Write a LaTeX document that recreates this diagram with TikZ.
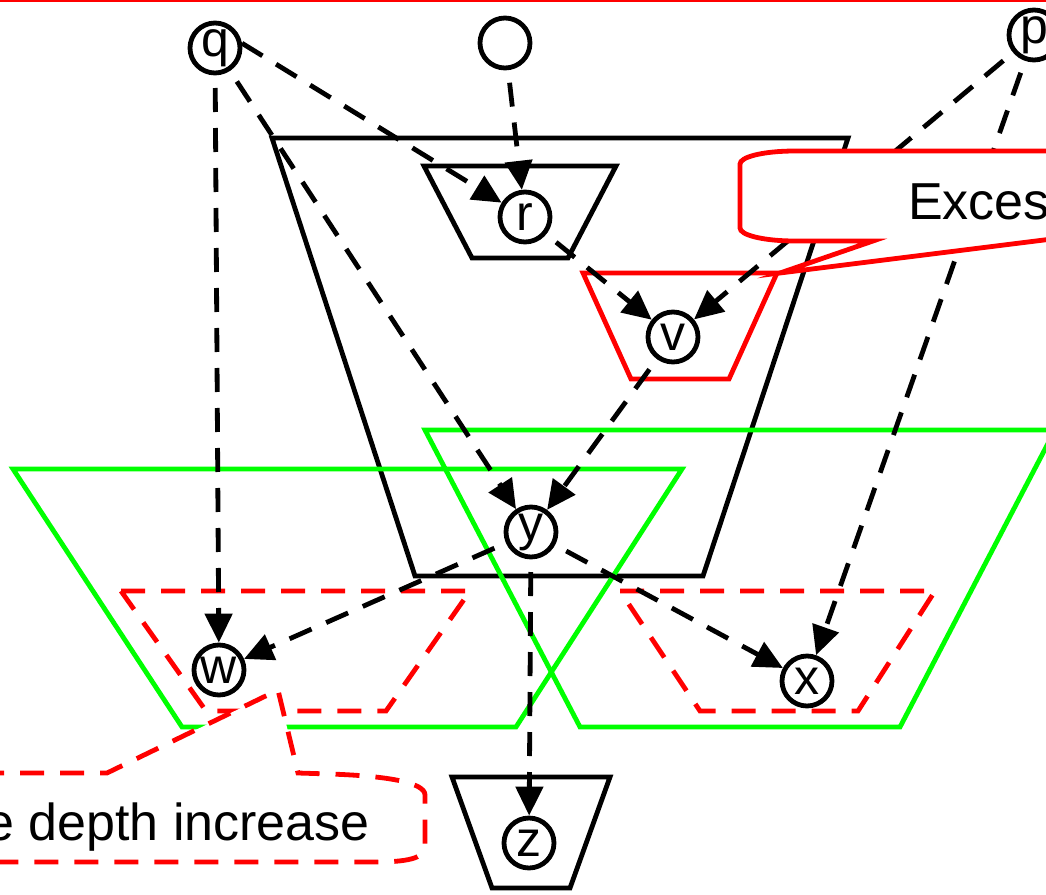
\documentclass[tikz,border=0pt]{standalone}
\usepackage{fontspec}
\setmainfont{Liberation Sans}
\usetikzlibrary{arrows.meta}
\pgfdeclarelayer{bg}
\pgfdeclarelayer{clusters}
\pgfdeclarelayer{edges}
\pgfdeclarelayer{top}
\pgfsetlayers{bg,clusters,edges,main,top}
\definecolor{gr}{RGB}{0,255,0}
\definecolor{rd}{RGB}{255,0,0}
\begin{document}
\begin{tikzpicture}[x=1pt,y=-1pt,
  vert/.style={circle, draw, line width=4.8pt, fill=white, minimum size=50pt, inner sep=0pt,
    font=\fontsize{50}{50}\selectfont},
  depedge/.style={line width=4.8pt, dash pattern=on 24pt off 16pt, -{Triangle[length=29pt,width=27pt]}},
  blk/.style={draw=black, line width=4.8pt},
  grn/.style={draw=gr, line width=4.8pt},
  redsolid/.style={draw=rd, line width=4.8pt},
  reddash/.style={draw=rd, line width=4.8pt, dash pattern=on 24pt off 16pt},
  lbl/.style={inner sep=0pt, font=\fontsize{52}{52}\selectfont}
]
\useasboundingbox (0,0) rectangle (1046,894);
\begin{pgfonlayer}{bg}
\fill[white] (0,0) rectangle (1046,894);
\draw[rd, line width=2pt] (0,1) -- (1046,1);
\end{pgfonlayer}

% nodes
\node[vert] (q) at (215,48) {q};
\node[vert] (t0) at (505,43) {};
\node[vert] (p) at (1034,35) {p};
\node[vert] (r) at (525,217) {r};
\node[vert] (v) at (673,337) {v};
\node[vert] (y) at (531,532) {y};
\node[vert] (w) at (219,670) {w};
\node[vert] (x) at (807,681) {x};
\node[vert] (z) at (529,843) {z};

% clusters
\begin{pgfonlayer}{clusters}
\draw[blk] (272,138) -- (848,138) -- (703,576) -- (415,576) -- cycle;
\draw[blk] (424,166) -- (616,166) -- (568,258) -- (472,258) -- cycle;
\draw[redsolid] (583,273) -- (777,273) -- (729,379) -- (631,379) -- cycle;
\draw[grn] (13,469) -- (682,469) -- (516,727) -- (182,727) -- cycle;
\draw[grn] (425,430) -- (1055,430) -- (900,727) -- (580,727) -- cycle;
\draw[reddash] (121,591) -- (470,591) -- (386,711) -- (206,711) -- cycle;
\draw[reddash] (620,591) -- (935,591) -- (858,711) -- (700,711) -- cycle;
\draw[blk] (452,777) -- (610,777) -- (570,888) -- (492,888) -- cycle;
\end{pgfonlayer}

% edges
\begin{pgfonlayer}{edges}
\draw[depedge] (q.center) -- (w);
\draw[depedge] (q.center) -- (y);
\draw[depedge] (q.10) -- (r);
\draw[depedge] (t0.center) -- (r);
\draw[depedge] (r.center) -- (v);
\draw[depedge] (p.center) -- (v);
\draw[depedge] (p.center) -- (x);
\draw[depedge] (v.center) -- (y);
\draw[depedge] (y.center) -- (w);
\draw[depedge] (y.center) -- (x);
\draw[depedge] (y.center) -- (z);
\end{pgfonlayer}

% callouts
\begin{pgfonlayer}{top}
\draw[redsolid, fill=white] (1100,151) -- (795,151) .. controls +(-32,0) and +(0,-7) .. (740,164)
  -- (740,228) .. controls +(0,7) and +(-32,0) .. (795,241) -- (873,241) -- (780,273)
  -- (1100,233) -- cycle;
\node[lbl, anchor=base west] (exc) at (908,219) {Exces};
\draw[reddash, fill=white] (-20,773) -- (107,773) -- (278,690) -- (298,773) -- (330,774)
  .. controls +(60,2) and +(0,-12) .. (425,795) -- (425,846)
  .. controls +(0,10) and +(40,0) .. (375,862) -- (-20,862) -- cycle;
\node[lbl, anchor=base east] (dep) at (370,840) {e depth increase};
\end{pgfonlayer}
\end{tikzpicture}
\end{document}
